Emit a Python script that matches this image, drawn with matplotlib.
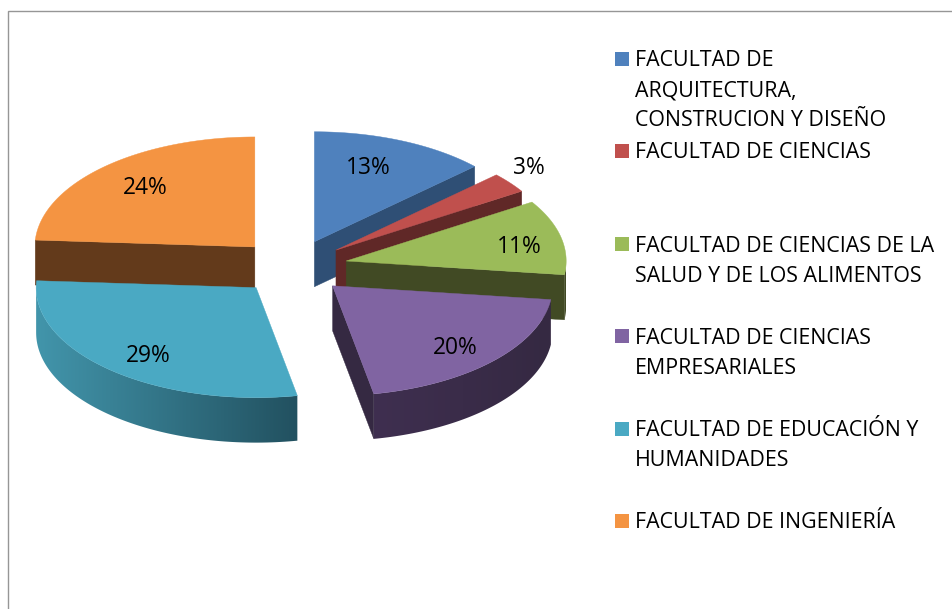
import matplotlib
matplotlib.use("Agg")
import matplotlib.pyplot as plt
from matplotlib.colors import to_rgb
from matplotlib.patches import Polygon, Rectangle
import numpy as np

plt.rcParams['font.family'] = ['Open Sans', 'DejaVu Sans']

# data
percents = [13, 3, 11, 20, 29, 24]
faculties = [
    ["FACULTAD DE", "ARQUITECTURA,", "CONSTRUCION Y DISEÑO"],
    ["FACULTAD DE CIENCIAS"],
    ["FACULTAD DE CIENCIAS DE LA", "SALUD Y DE LOS ALIMENTOS"],
    ["FACULTAD DE CIENCIAS", "EMPRESARIALES"],
    ["FACULTAD DE EDUCACIÓN Y", "HUMANIDADES"],
    ["FACULTAD DE INGENIERÍA"],
]
top_colors = ["#4f81bd", "#c0504d", "#9bbb59", "#8064a2", "#4aa9c3", "#f49442"]
side_colors = ["#2f4f75", "#602827", "#414a24", "#352942", "#3f91a8", "#633a1b"]
wall_left = ["#2f4f75", "#602827", "#414a24", "#3f2f50", "#4295ab", "#633a1b"]
wall_right = ["#2f4f75", "#602827", "#414a24", "#352942", "#225160", "#633a1b"]

# pie geometry, in pixels of the picture
CX, CY = 292.5, 267
RX, RY = 220, 110
DEPTH = 45
EXPLODE = 0.25
LABEL_R = 0.95
label_shift = [(-7, -5), (71, -37), (23, 1), (10, 7), (-6, 9), (-4, -5)]
legend_y = [59, 151, 244, 336, 429, 521]
draw_order = [5, 0, 1, 2, 4, 3]


def rim(t):
    t = np.radians(t)
    return RX * np.sin(t), -RY * np.cos(t)


def draw_slice(ax, i, t0, t1, z):
    mx, my = rim((t0 + t1) / 2)
    apex = np.array([CX + EXPLODE * mx, CY + EXPLODE * my])

    # radial wall that faces the viewer
    if 0 < t1 < 180:
        edge = t1
    elif 180 < t0 < 360:
        edge = t0
    else:
        edge = None
    if edge is not None:
        p = apex + np.array(rim(edge))
        ax.add_patch(Polygon([apex, p, p + [0, DEPTH], apex + [0, DEPTH]],
                             fc=side_colors[i], ec=side_colors[i], lw=0.3, zorder=z))

    # outer wall, only the front half of the rim shows
    a = max(t0, 90)
    b = min(t1, 270)
    if a < b:
        xs, ys = rim(np.linspace(a, b, 90))
        upper = np.column_stack([apex[0] + xs, apex[1] + ys])
        lower = upper[::-1] + [0, DEPTH]
        shape = Polygon(np.vstack([upper, lower]), fc="none", ec="none",
                        transform=ax.transData)
        c0 = np.array(to_rgb(wall_left[i]))
        c1 = np.array(to_rgb(wall_right[i]))
        grad = np.linspace(c0, c1, 128)[None, :, :]
        im = ax.imshow(grad, extent=[upper[:, 0].min(), upper[:, 0].max(),
                                     lower[:, 1].max(), upper[:, 1].min()],
                       aspect="auto", interpolation="bilinear", zorder=z)
        im.set_clip_path(shape)

    # top face
    xs, ys = rim(np.linspace(t0, t1, 80))
    pts = [apex] + list(np.column_stack([apex[0] + xs, apex[1] + ys]))
    ax.add_patch(Polygon(pts, fc=top_colors[i], ec=top_colors[i], lw=0.3, zorder=z + 0.5))


fig = plt.figure(figsize=(9.53, 6.09), dpi=100)
ax = fig.add_axes([0, 0, 1, 1])
ax.axis("off")

# chart frame, cut by the picture at right and bottom
ax.add_patch(Rectangle((8.5, 11), 1000, 700, fc="white", ec="#969696", lw=1.0, zorder=0))

ends = np.cumsum(percents) * 3.6
starts = np.r_[0, ends[:-1]]
for n, i in enumerate(draw_order):
    draw_slice(ax, i, starts[i], ends[i], n + 1)

ax.set_xlim(0, 953)
ax.set_ylim(609, 0)

for i, pct in enumerate(percents):
    mx, my = rim((starts[i] + ends[i]) / 2)
    ax.text(CX + LABEL_R * mx + label_shift[i][0], CY + LABEL_R * my + label_shift[i][1] + 2,
            f"{pct}%", fontsize=16.4, ha="center", va="center", color="black", zorder=20)

for i, lines in enumerate(faculties):
    y = legend_y[i]
    ax.add_patch(Rectangle((615, y - 7), 14, 14, fc=top_colors[i], ec="none", zorder=20))
    for n, line in enumerate(lines):
        ax.text(635, y + n * 30 + 2, line, fontsize=15.4, ha="left", va="center",
                color="black", zorder=20)

fig.savefig("out.png", dpi=100)
